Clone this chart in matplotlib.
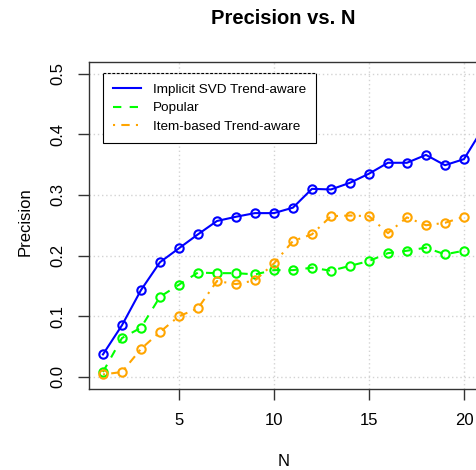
import matplotlib
matplotlib.use("Agg")
import matplotlib.pyplot as plt
from matplotlib.lines import Line2D

N_SVD = [1, 2, 3, 4, 5, 6, 7, 8, 9, 10, 11, 12, 13, 14, 15, 16, 17, 18, 19, 20, 21]
svd_trend = [0.037, 0.085, 0.143, 0.189, 0.212, 0.235, 0.257, 0.264, 0.270, 0.270,
             0.279, 0.310, 0.309, 0.320, 0.335, 0.353, 0.353, 0.366, 0.349, 0.359, 0.41]
N = [1, 2, 3, 4, 5, 6, 7, 8, 9, 10, 11, 12, 13, 14, 15, 16, 17, 18, 19, 20]
popular = [0.008, 0.064, 0.081, 0.132, 0.152, 0.172, 0.171, 0.171, 0.169, 0.176,
           0.176, 0.180, 0.175, 0.183, 0.191, 0.204, 0.208, 0.213, 0.202, 0.208]
item_trend = [0.004, 0.008, 0.046, 0.074, 0.100, 0.113, 0.158, 0.153, 0.159, 0.187,
              0.224, 0.235, 0.265, 0.266, 0.265, 0.237, 0.263, 0.250, 0.254, 0.264]
labels = ["Implicit SVD Trend-aware", "Popular", "Item-based Trend-aware"]

W, H = 476, 470
plt.rcParams["font.family"] = ["Liberation Sans", "DejaVu Sans"]
fig = plt.figure(figsize=(W / 100, H / 100), dpi=100)

# plot box in pixels (right edge sits just outside the picture)
left, right, top, bottom = 88.5, 478.4, 61.5, 389.0
ax = fig.add_axes([left / W, 1 - bottom / H, (right - left) / W, (bottom - top) / H])

lw = 1.5
ms = 6.0
ax.plot(N_SVD, svd_trend, color="#0000FF", lw=lw, marker="o", ms=ms, mfc="none",
        mew=lw, label=labels[0], zorder=3)
ax.plot(N, popular, color="#00FF00", lw=lw, dashes=(4, 4), marker="o", ms=ms,
        mfc="none", mew=lw, label=labels[1], zorder=3)
ax.plot(N, item_trend, color="#FFA500", lw=lw, dashes=(1, 3, 4, 3), marker="o", ms=ms,
        mfc="none", mew=lw, label=labels[2], zorder=3)

ax.set_xlim(1 - 0.76, 20 + 0.76)
ax.set_ylim(-0.02, 0.52)
ax.set_xticks([5, 10, 15, 20])
ax.set_yticks([0.0, 0.1, 0.2, 0.3, 0.4, 0.5])
ax.set_yticklabels(["0.0", "0.1", "0.2", "0.3", "0.4", "0.5"], rotation=90, va="center")
ax.grid(True, color="#D3D3D3", ls=(0, (1, 2)), lw=1.0)
ax.set_axisbelow(True)
for s in ax.spines.values():
    s.set_color("#333333")
    s.set_linewidth(1.0)
ax.tick_params(direction="out", length=7.6, width=1.0, color="#333333",
               labelsize=12)
ax.tick_params(axis="x", pad=10)
ax.tick_params(axis="y", pad=9)

leg = ax.legend(loc="upper left", bbox_to_anchor=(102.7 / W, 1 - 73.3 / H),
                bbox_transform=fig.transFigure, borderaxespad=0, fancybox=False,
                framealpha=1, edgecolor="black", fontsize=9.7, handlelength=2.1,
                handletextpad=0.9, borderpad=0.75, labelspacing=0.45)
leg.get_frame().set_linewidth(0.8)
for h in leg.get_lines():
    h.set_marker("")

# dashed top edge of the legend box (grid line drawn over it)
fig.canvas.draw()
bb = leg.get_frame().get_window_extent()
x0, x1, yt = bb.x0 / W, bb.x1 / W, bb.y1 / H
fig.add_artist(Line2D([x0, x1], [yt, yt], transform=fig.transFigure, color="white",
                      lw=1.2, zorder=10))
fig.add_artist(Line2D([x0, x1], [yt, yt], transform=fig.transFigure, color="black",
                      lw=0.8, dashes=(2.5, 1.5), zorder=11))

fig.text(283.3 / W, 1 - 19 / H, "Precision vs. N", ha="center", va="center",
         fontsize=14.5, fontweight="bold")
fig.text(283.3 / W, 1 - 461.7 / H, "N", ha="center", va="center", fontsize=12)
fig.text(25 / W, 1 - 222 / H, "Precision", ha="center", va="center", rotation=90,
         fontsize=12)

fig.savefig("out.png", dpi=100)
